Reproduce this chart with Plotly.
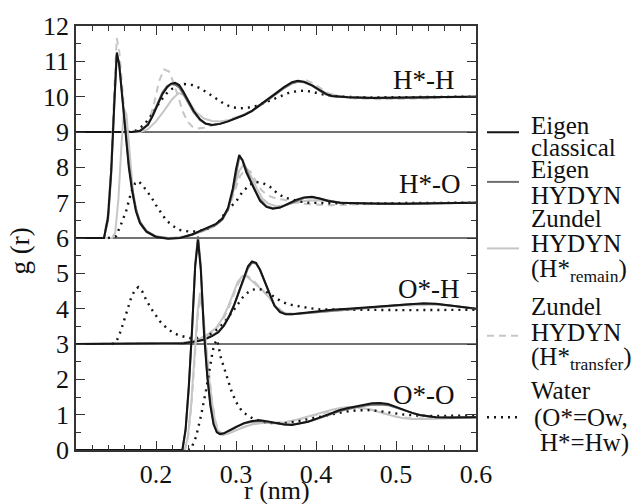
import plotly.graph_objects as go

# ---------------- data (g(r) values) ----------------
# panel offsets on the stacked g(r) axis
off_hh, off_ho, off_oh, off_oo = 9, 6, 3, 0

# ---- H*-H ----
hh_r_ec = [0.10, 0.17, 0.18, 0.19, 0.196, 0.202, 0.208, 0.214, 0.219, 0.224, 0.229, 0.234, 0.24, 0.247, 0.255, 0.262, 0.27, 0.28, 0.29, 0.30, 0.31, 0.32, 0.33, 0.34, 0.35, 0.36, 0.37, 0.377, 0.385, 0.395, 0.405, 0.413, 0.42, 0.44, 0.47, 0.50, 0.53, 0.56, 0.60]
hh_g_ec = [0, 0, 0.03, 0.2, 0.46, 0.78, 1.07, 1.27, 1.37, 1.39, 1.33, 1.15, 0.9, 0.6, 0.36, 0.24, 0.2, 0.23, 0.3, 0.38, 0.48, 0.6, 0.76, 0.93, 1.1, 1.27, 1.41, 1.45, 1.42, 1.32, 1.17, 1.07, 1.02, 0.98, 0.96, 0.96, 0.98, 0.99, 1.0]
hh_r_eh = hh_r_ec
hh_g_eh = [0, 0, 0.04, 0.22, 0.5, 0.83, 1.12, 1.3, 1.36, 1.34, 1.26, 1.08, 0.84, 0.56, 0.34, 0.23, 0.2, 0.23, 0.3, 0.38, 0.47, 0.59, 0.74, 0.91, 1.08, 1.25, 1.38, 1.43, 1.41, 1.31, 1.16, 1.06, 1.01, 0.98, 0.97, 0.96, 0.97, 0.99, 1.0]
hh_r_zr = [0.10, 0.18, 0.19, 0.20, 0.21, 0.22, 0.228, 0.235, 0.242, 0.25, 0.26, 0.27, 0.28, 0.29, 0.30, 0.31, 0.32, 0.33, 0.34, 0.35, 0.36, 0.37, 0.378, 0.385, 0.395, 0.405, 0.415, 0.43, 0.45, 0.48, 0.51, 0.54, 0.57, 0.60]
hh_g_zr = [0, 0, 0.08, 0.3, 0.6, 0.92, 1.1, 1.05, 0.84, 0.56, 0.38, 0.31, 0.3, 0.33, 0.4, 0.49, 0.6, 0.75, 0.92, 1.08, 1.24, 1.37, 1.42, 1.41, 1.34, 1.2, 1.08, 1.01, 0.97, 0.95, 0.95, 0.97, 0.99, 1.0]
hh_r_zt = [0.10, 0.18, 0.186, 0.192, 0.198, 0.204, 0.21, 0.216, 0.222, 0.228, 0.234, 0.24, 0.246, 0.252, 0.26, 0.27, 0.28, 0.29, 0.30, 0.31, 0.32, 0.33, 0.34, 0.35, 0.36, 0.37, 0.38, 0.388, 0.395, 0.405, 0.415, 0.43, 0.45, 0.48, 0.51, 0.54, 0.57, 0.60]
hh_g_zt = [0, 0, 0.1, 0.35, 0.85, 1.45, 1.77, 1.72, 1.4, 0.95, 0.55, 0.28, 0.14, 0.1, 0.12, 0.18, 0.26, 0.33, 0.4, 0.5, 0.62, 0.76, 0.92, 1.08, 1.24, 1.37, 1.45, 1.46, 1.4, 1.25, 1.1, 1.0, 0.95, 0.93, 0.93, 0.95, 0.98, 1.0]
hh_r_w = [0.165, 0.175, 0.185, 0.195, 0.205, 0.215, 0.225, 0.235, 0.245, 0.255, 0.265, 0.275, 0.285, 0.295, 0.305, 0.315, 0.325, 0.335, 0.345, 0.355, 0.365, 0.375, 0.385, 0.395, 0.405, 0.42, 0.44, 0.47, 0.50, 0.53, 0.56, 0.60]
hh_g_w = [0, 0.04, 0.2, 0.5, 0.86, 1.14, 1.3, 1.36, 1.33, 1.24, 1.1, 0.94, 0.8, 0.7, 0.67, 0.69, 0.74, 0.82, 0.92, 1.02, 1.1, 1.15, 1.17, 1.14, 1.08, 1.02, 0.99, 0.98, 0.98, 0.99, 1.0, 1.0]

# ---- H*-O ----
ho_r_ec = [0.10, 0.135, 0.14, 0.144, 0.148, 0.151, 0.154, 0.158, 0.162, 0.166, 0.17, 0.175, 0.18, 0.188, 0.2, 0.215, 0.23, 0.245, 0.255, 0.265, 0.275, 0.283, 0.29, 0.296, 0.3, 0.304, 0.308, 0.313, 0.318, 0.324, 0.33, 0.338, 0.346, 0.355, 0.365, 0.375, 0.385, 0.395, 0.405, 0.415, 0.43, 0.45, 0.48, 0.51, 0.54, 0.57, 0.60]
ho_g_ec = [0, 0, 0.6, 1.9, 3.9, 5.25, 4.9, 3.9, 2.9, 2.0, 1.35, 0.75, 0.42, 0.18, 0.03, -0.02, 0.0, 0.1, 0.2, 0.3, 0.4, 0.55, 0.85, 1.4, 1.95, 2.35, 2.2, 1.85, 1.6, 1.3, 1.05, 0.88, 0.83, 0.86, 0.96, 1.08, 1.15, 1.17, 1.12, 1.05, 1.0, 0.98, 0.97, 0.97, 0.98, 0.99, 1.0]
ho_r_eh = ho_r_ec
ho_g_eh = [0, 0, 0.5, 1.8, 3.8, 5.2, 4.95, 4.0, 3.0, 2.1, 1.45, 0.82, 0.46, 0.2, 0.04, -0.01, 0.0, 0.09, 0.18, 0.28, 0.38, 0.52, 0.8, 1.32, 1.85, 2.28, 2.22, 1.92, 1.65, 1.35, 1.1, 0.9, 0.84, 0.86, 0.95, 1.06, 1.13, 1.15, 1.11, 1.05, 1.0, 0.98, 0.97, 0.97, 0.98, 0.99, 1.0]
ho_r_zr = [0.10, 0.145, 0.149, 0.153, 0.157, 0.16, 0.163, 0.167, 0.172, 0.178, 0.184, 0.19, 0.2, 0.215, 0.23, 0.245, 0.26, 0.27, 0.28, 0.29, 0.298, 0.304, 0.309, 0.314, 0.32, 0.326, 0.333, 0.34, 0.35, 0.36, 0.37, 0.38, 0.39, 0.40, 0.41, 0.425, 0.44, 0.46, 0.49, 0.52, 0.55, 0.58, 0.60]
ho_g_zr = [0, 0, 0.15, 1.1, 2.7, 3.65, 3.5, 2.4, 1.1, 0.55, 0.28, 0.14, 0.05, 0.0, 0.02, 0.1, 0.2, 0.3, 0.45, 0.8, 1.4, 1.9, 2.06, 1.95, 1.7, 1.4, 1.12, 0.98, 0.9, 0.92, 0.98, 1.03, 1.06, 1.07, 1.05, 1.02, 1.0, 0.98, 0.97, 0.97, 0.98, 0.99, 1.0]
ho_r_zt = [0.10, 0.135, 0.14, 0.144, 0.148, 0.151, 0.154, 0.158, 0.162, 0.166, 0.17, 0.175, 0.18, 0.188, 0.2, 0.215, 0.23, 0.245, 0.26, 0.27, 0.28, 0.29, 0.298, 0.305, 0.312, 0.318, 0.325, 0.332, 0.34, 0.35, 0.36, 0.37, 0.38, 0.39, 0.40, 0.41, 0.42, 0.44, 0.46, 0.49, 0.52, 0.55, 0.58, 0.60]
ho_g_zt = [0, 0, 0.7, 2.1, 4.3, 5.66, 5.3, 4.2, 3.1, 2.1, 1.4, 0.78, 0.44, 0.18, 0.03, 0.0, 0.02, 0.1, 0.22, 0.32, 0.48, 0.8, 1.3, 1.75, 1.96, 1.88, 1.6, 1.35, 1.2, 1.12, 1.08, 1.03, 0.98, 0.96, 0.94, 0.93, 0.93, 0.95, 0.97, 0.98, 0.97, 0.98, 0.99, 1.0]
ho_r_w = [0.14, 0.15, 0.156, 0.1625, 0.169, 0.174, 0.178, 0.183, 0.1875, 0.194, 0.2, 0.206, 0.2125, 0.22, 0.229, 0.2417, 0.252, 0.262, 0.272, 0.28, 0.2875, 0.294, 0.30, 0.308, 0.3167, 0.325, 0.334, 0.3425, 0.35, 0.36, 0.37, 0.38, 0.39, 0.405, 0.42, 0.44, 0.47, 0.50, 0.53, 0.56, 0.60]
ho_g_w = [0, 0.05, 0.37, 0.75, 1.3, 1.55, 1.61, 1.5, 1.36, 1.16, 0.93, 0.72, 0.51, 0.36, 0.23, 0.18, 0.19, 0.24, 0.34, 0.5, 0.75, 0.9, 1.03, 1.3, 1.5, 1.59, 1.55, 1.45, 1.3, 1.15, 1.08, 1.03, 1.0, 0.98, 0.98, 0.98, 0.98, 0.99, 0.99, 1.0, 1.0]

# ---- O*-H ----
oh_r_ec = [0.10, 0.22, 0.235, 0.25, 0.26, 0.27, 0.278, 0.285, 0.292, 0.298, 0.304, 0.31, 0.315, 0.32, 0.325, 0.33, 0.336, 0.342, 0.348, 0.355, 0.362, 0.37, 0.38, 0.40, 0.42, 0.44, 0.46, 0.48, 0.50, 0.52, 0.535, 0.55, 0.565, 0.58, 0.60]
oh_g_ec = [0, 0, 0.02, 0.07, 0.12, 0.22, 0.33, 0.52, 0.8, 1.12, 1.5, 1.9, 2.2, 2.34, 2.3, 2.1, 1.75, 1.4, 1.08, 0.9, 0.84, 0.84, 0.87, 0.92, 0.97, 1.0, 1.03, 1.07, 1.1, 1.13, 1.15, 1.14, 1.1, 1.04, 1.0]
oh_r_eh = oh_r_ec
oh_g_eh = [0, 0, 0.02, 0.08, 0.13, 0.24, 0.35, 0.54, 0.82, 1.12, 1.48, 1.86, 2.15, 2.3, 2.28, 2.1, 1.78, 1.43, 1.1, 0.92, 0.85, 0.84, 0.86, 0.91, 0.96, 1.0, 1.03, 1.07, 1.1, 1.13, 1.14, 1.13, 1.1, 1.05, 1.0]
oh_r_zr = [0.10, 0.21, 0.23, 0.245, 0.255, 0.265, 0.275, 0.283, 0.29, 0.296, 0.302, 0.308, 0.314, 0.32, 0.327, 0.334, 0.342, 0.35, 0.358, 0.366, 0.375, 0.39, 0.41, 0.43, 0.45, 0.47, 0.49, 0.51, 0.53, 0.55, 0.57, 0.59, 0.60]
oh_g_zr = [0, 0, 0.03, 0.08, 0.15, 0.28, 0.45, 0.72, 1.05, 1.42, 1.75, 1.93, 1.9, 1.78, 1.65, 1.5, 1.3, 1.05, 0.9, 0.86, 0.85, 0.88, 0.93, 0.97, 1.0, 1.03, 1.07, 1.1, 1.12, 1.12, 1.08, 1.03, 1.0]
oh_r_zt = oh_r_zr
oh_g_zt = [0, 0, 0.02, 0.07, 0.13, 0.25, 0.42, 0.66, 0.98, 1.33, 1.68, 1.9, 1.93, 1.84, 1.68, 1.5, 1.3, 1.08, 0.92, 0.86, 0.85, 0.88, 0.92, 0.96, 1.0, 1.03, 1.06, 1.09, 1.11, 1.11, 1.08, 1.03, 1.0]
oh_r_w = [0.145, 0.15, 0.156, 0.1625, 0.169, 0.174, 0.178, 0.183, 0.1875, 0.194, 0.2, 0.206, 0.2125, 0.22, 0.228, 0.2417, 0.252, 0.262, 0.27, 0.278, 0.285, 0.2917, 0.3, 0.308, 0.315, 0.321, 0.328, 0.335, 0.3425, 0.35, 0.357, 0.366, 0.376, 0.39, 0.405, 0.43, 0.47, 0.50, 0.53, 0.56, 0.60]
oh_g_w = [0, 0.04, 0.37, 0.84, 1.31, 1.55, 1.61, 1.48, 1.26, 1.0, 0.79, 0.61, 0.47, 0.34, 0.25, 0.17, 0.17, 0.22, 0.3, 0.44, 0.6, 0.79, 1.05, 1.31, 1.46, 1.54, 1.56, 1.52, 1.4, 1.3, 1.2, 1.12, 1.08, 1.02, 0.98, 0.97, 0.96, 0.96, 0.96, 0.97, 0.97]

# ---- O*-O ----
oo_r_ec = [0.10, 0.233, 0.237, 0.241, 0.245, 0.249, 0.2525, 0.256, 0.26, 0.264, 0.268, 0.272, 0.276, 0.28, 0.285, 0.29, 0.30, 0.31, 0.32, 0.33, 0.34, 0.35, 0.36, 0.37, 0.38, 0.39, 0.40, 0.41, 0.42, 0.43, 0.44, 0.45, 0.46, 0.47, 0.48, 0.49, 0.50, 0.51, 0.52, 0.53, 0.54, 0.55, 0.57, 0.60]
oo_g_ec = [0, 0, 0.6, 1.8, 3.4, 5.2, 5.95, 5.1, 3.3, 2.1, 1.25, 0.72, 0.5, 0.45, 0.47, 0.53, 0.66, 0.76, 0.82, 0.84, 0.81, 0.77, 0.72, 0.71, 0.75, 0.8, 0.88, 0.97, 1.06, 1.13, 1.19, 1.24, 1.28, 1.32, 1.33, 1.3, 1.22, 1.13, 1.05, 0.99, 0.95, 0.93, 0.92, 0.93]
oo_r_eh = oo_r_ec
oo_g_eh = [0, 0, 0.55, 1.75, 3.35, 5.25, 6.05, 5.2, 3.4, 2.15, 1.3, 0.75, 0.52, 0.46, 0.48, 0.54, 0.66, 0.75, 0.8, 0.82, 0.8, 0.76, 0.73, 0.72, 0.76, 0.8, 0.87, 0.95, 1.03, 1.1, 1.16, 1.21, 1.25, 1.28, 1.29, 1.27, 1.2, 1.12, 1.04, 0.98, 0.95, 0.93, 0.92, 0.93]
oo_r_zr = [0.10, 0.236, 0.24, 0.244, 0.248, 0.252, 0.255, 0.258, 0.262, 0.266, 0.27, 0.274, 0.278, 0.283, 0.29, 0.30, 0.31, 0.32, 0.33, 0.34, 0.35, 0.36, 0.37, 0.38, 0.39, 0.40, 0.41, 0.42, 0.43, 0.44, 0.45, 0.46, 0.47, 0.48, 0.49, 0.50, 0.51, 0.52, 0.54, 0.56, 0.58, 0.60]
oo_g_zr = [0, 0, 0.4, 1.3, 2.6, 3.9, 4.45, 4.1, 3.1, 2.1, 1.35, 0.8, 0.5, 0.42, 0.46, 0.56, 0.65, 0.72, 0.76, 0.77, 0.76, 0.78, 0.82, 0.88, 0.95, 1.02, 1.08, 1.14, 1.19, 1.22, 1.22, 1.19, 1.14, 1.07, 1.0, 0.94, 0.9, 0.88, 0.88, 0.9, 0.92, 0.93]
oo_r_zt = oo_r_zr
oo_g_zt = [0, 0, 0.35, 1.2, 2.45, 3.75, 4.3, 4.0, 3.1, 2.15, 1.4, 0.85, 0.55, 0.45, 0.48, 0.57, 0.66, 0.73, 0.77, 0.78, 0.77, 0.78, 0.82, 0.88, 0.95, 1.01, 1.07, 1.12, 1.17, 1.2, 1.2, 1.18, 1.13, 1.06, 1.0, 0.95, 0.91, 0.89, 0.89, 0.9, 0.92, 0.93]
oo_r_w = [0.24, 0.2437, 0.25, 0.256, 0.2625, 0.2667, 0.271, 0.2735, 0.2765, 0.281, 0.2875, 0.294, 0.30, 0.308, 0.321, 0.333, 0.345, 0.36, 0.375, 0.39, 0.405, 0.42, 0.435, 0.45, 0.465, 0.48, 0.495, 0.51, 0.53, 0.55, 0.575, 0.60]
oo_g_w = [0, 0.02, 0.37, 0.94, 1.69, 2.25, 2.81, 3.02, 3.12, 2.62, 2.16, 1.69, 1.36, 1.08, 0.89, 0.8, 0.76, 0.76, 0.8, 0.87, 0.95, 1.02, 1.08, 1.12, 1.13, 1.1, 1.05, 1.0, 0.97, 0.96, 0.97, 0.98]

panel_names = ["H*-H", "H*-O", "O*-H", "O*-O"]
x_ticks = [0.2, 0.3, 0.4, 0.5, 0.6]

# ---------------- styles ----------------
FONT = "Liberation Serif, DejaVu Serif, Times New Roman, serif"
sty_zr = dict(color="#c6c6c6", width=2)
sty_zt = dict(color="#c6c6c6", width=2, dash="7px,5px")
sty_w = dict(color="#151515", width=2.4, dash="2px,5px")
sty_eh = dict(color="#6e6e6e", width=2)
sty_ec = dict(color="#151515", width=2)

panels = [
    (off_hh, hh_r_ec, hh_g_ec, hh_r_eh, hh_g_eh, hh_r_zr, hh_g_zr, hh_r_zt, hh_g_zt, hh_r_w, hh_g_w),
    (off_ho, ho_r_ec, ho_g_ec, ho_r_eh, ho_g_eh, ho_r_zr, ho_g_zr, ho_r_zt, ho_g_zt, ho_r_w, ho_g_w),
    (off_oh, oh_r_ec, oh_g_ec, oh_r_eh, oh_g_eh, oh_r_zr, oh_g_zr, oh_r_zt, oh_g_zt, oh_r_w, oh_g_w),
    (off_oo, oo_r_ec, oo_g_ec, oo_r_eh, oo_g_eh, oo_r_zr, oo_g_zr, oo_r_zt, oo_g_zt, oo_r_w, oo_g_w),
]

fig = go.Figure()
for (off, rec, gec, reh, geh, rzr, gzr, rzt, gzt, rw, gw) in panels:
    def add(r, g, sty):
        fig.add_trace(go.Scatter(x=r, y=[v + off for v in g], mode="lines",
                                 line=sty, showlegend=False, hoverinfo="skip"))
    add(rzr, gzr, sty_zr)
    add(rzt, gzt, sty_zt)
    add(rw, gw, sty_w)
    add(reh, geh, sty_eh)
    add(rec, gec, sty_ec)

# panel separators
for off in (off_oh, off_ho, off_hh):
    fig.add_shape(type="line", xref="paper", yref="y", x0=0, x1=1, y0=off, y1=off,
                  line=dict(color="#444", width=1.5), layer="below")

# panel labels
label_pos = [(0.576, 10.48), (0.584, 7.53), (0.5825, 4.55), (0.576, 1.55)]
for name, (lx, ly) in zip(panel_names, label_pos):
    fig.add_annotation(x=lx, y=ly, xref="x", yref="y", text=name, showarrow=False,
                       xanchor="right", yanchor="middle",
                       font=dict(family=FONT, size=27, color="#111"))

# ---------------- manual legend ----------------
L, R, T, B = 76, 476, 23, 450
def pxx(p):
    return (p - L) / (R - L)
def pxy(p):
    return (B - p) / (B - T)

leg_lines = [
    (130, sty_ec), (180, sty_eh), (247, sty_zr), (335, sty_zt), (417, sty_w)
]
for yy, sty in leg_lines:
    fig.add_shape(type="line", xref="paper", yref="paper", x0=pxx(487), x1=pxx(519),
                  y0=pxy(yy), y1=pxy(yy), line=sty)

leg_text = [
    ("Eigen", 530, 131), ("classical", 530, 153), ("Eigen", 530, 175), ("HYDYN", 530, 201),
    ("Zundel", 530, 225), ("HYDYN", 530, 250), ("(H*<sub>remain</sub>)", 530, 275),
    ("Zundel", 530, 313), ("HYDYN", 530, 339), ("(H*<sub>transfer</sub>)", 530, 363),
    ("Water", 530, 398), ("(O*=Ow,", 533, 425), ("H*=Hw)", 539, 450),
]
LFS = 25
for txt, x0, base in leg_text:
    fig.add_annotation(x=pxx(x0), y=pxy(base - 0.89 * LFS), xref="paper", yref="paper",
                       text=txt, showarrow=False, xanchor="left", yanchor="top",
                       font=dict(family=FONT, size=LFS, color="#111"), borderpad=0)

# axis titles
fig.add_annotation(x=pxx(20), y=pxy(249), xref="paper", yref="paper", text="g (r)",
                   textangle=-90, showarrow=False, xanchor="center", yanchor="middle",
                   font=dict(family=FONT, size=27, color="#111"))
fig.add_annotation(x=pxx(277), y=pxy(491), xref="paper", yref="paper", text="r (nm)",
                   showarrow=False, xanchor="center", yanchor="middle",
                   font=dict(family=FONT, size=26, color="#111"))

axis_common = dict(showline=True, linecolor="#333", linewidth=1.5, mirror="ticks",
                   ticks="inside", ticklen=9, tickwidth=1.3, tickcolor="#333",
                   showgrid=False, zeroline=False,
                   tickfont=dict(family=FONT, size=26, color="#111"))

fig.update_xaxes(range=[0.1, 0.6], tickvals=x_ticks, ticktext=[f"{v:.1f}" for v in x_ticks],
                 minor=dict(ticks="inside", ticklen=5, tick0=0.1, dtick=0.02,
                            tickcolor="#333", tickwidth=1.2, showgrid=False),
                 **axis_common)
fig.update_yaxes(range=[0, 12], dtick=1, tick0=0,
                 minor=dict(ticks="inside", ticklen=5, tick0=0, dtick=0.5,
                            tickcolor="#333", tickwidth=1.2, showgrid=False),
                 **axis_common)

fig.update_layout(width=637, height=504, autosize=False,
                  margin=dict(l=76, r=161, t=23, b=54),
                  plot_bgcolor="white", paper_bgcolor="white",
                  font=dict(family=FONT, color="#111"))

# remove the default 8px page margin so the figure sits at the window origin
fig.write_html("out.html", config={"displayModeBar": False},
               post_script="document.body.style.margin='0';document.body.style.overflow='hidden';")
